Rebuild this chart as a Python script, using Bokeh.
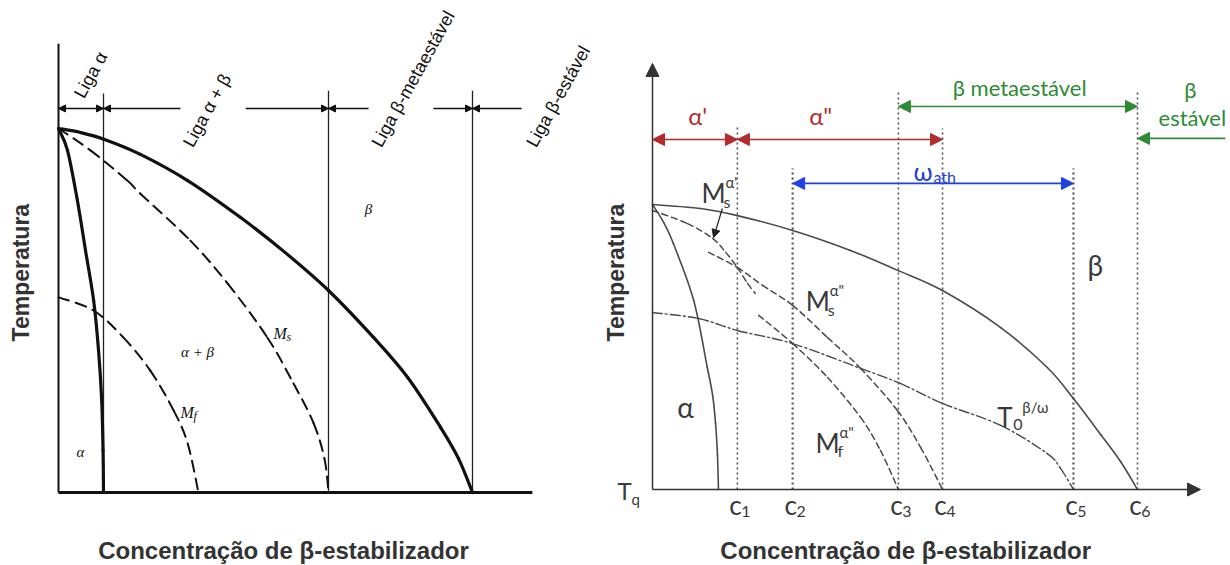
from bokeh.plotting import figure
from bokeh.layouts import row
from bokeh.models import Arrow, NormalHead, ColumnDataSource, Range1d
from bokeh.core.properties import value
from bokeh.embed import file_html
from bokeh.resources import INLINE

# ------------------------------------------------------------------
# Left diagram: alloy classes along the beta-stabiliser axis
# ------------------------------------------------------------------
alloy_bounds = [1.0, 6.0, 9.2]
alloy_names = ["Liga α", "Liga α + β", "Liga β-metaestável", "Liga β-estável"]

transus_c = [0, 0.49, 1.02, 1.82, 2.87, 4.04, 5.04, 6.0, 7.0, 7.76, 8.49, 8.89, 9.2]
transus_t = [10, 9.89, 9.70, 9.29, 8.57, 7.56, 6.59, 5.55, 4.26, 3.16, 1.79, 0.93, 0]

alpha_c = [0, 0.2, 0.42, 0.6, 0.78, 0.89, 0.96, 0.99, 1.0]
alpha_t = [10, 9.40, 8.02, 6.65, 5.28, 3.90, 2.53, 1.15, 0]

ms_c = [0, 0.71, 1.53, 1.82, 2.93, 3.76, 4.64, 5.22, 5.67, 5.91, 6.0]
ms_t = [10, 9.40, 8.57, 8.21, 6.92, 5.74, 4.26, 3.00, 1.90, 0.93, 0]

mf_c = [0, 0.78, 1.44, 2.04, 2.56, 2.87, 3.11]
mf_t = [5.36, 5.0, 4.26, 3.35, 2.25, 1.35, 0]

# ------------------------------------------------------------------
# Right diagram: martensite / omega regions, c1 .. c6
# ------------------------------------------------------------------
c_marks = [1.75, 2.89, 5.07, 5.98, 8.68, 10.0]
c_names = ["1", "2", "3", "4", "5", "6"]

bt_c = [0, 0.99, 1.75, 2.89, 4.08, 5.07, 5.98, 7.18, 8.14, 8.68, 9.24, 9.65, 10.0]
bt_t = [10.0, 9.86, 9.61, 9.09, 8.39, 7.68, 6.98, 5.68, 4.28, 3.19, 1.93, 0.98, 0]

al_c = [0, 0.23, 0.43, 0.85, 1.13, 1.24, 1.30, 1.34, 1.36]
al_t = [10.0, 9.37, 8.63, 6.63, 4.28, 3.30, 2.32, 1.19, 0]

ms1_c = [0, 0.72, 1.24, 1.51, 1.75, 1.96, 2.12]
ms1_t = [9.79, 9.33, 8.81, 8.32, 7.79, 7.23, 6.88]

ms2_c = [1.16, 1.75, 2.27, 2.89, 3.61, 4.29, 5.05, 5.53, 5.98]
ms2_t = [8.32, 7.79, 7.16, 6.46, 5.33, 4.25, 2.77, 1.47, 0]

mf2_c = [2.19, 2.89, 3.61, 4.29, 4.70, 5.07]
mf2_t = [6.11, 5.12, 3.93, 2.53, 1.37, 0]

t0_c = [0, 0.95, 1.75, 2.89, 4.29, 5.11, 5.98, 7.18, 8.14, 8.41, 8.68]
t0_t = [6.21, 6.0, 5.58, 5.12, 4.25, 3.72, 3.02, 2.25, 1.26, 0.75, 0]

TITLE_X = "Concentração de β-estabilizador"
TITLE_Y = "Temperatura"

TITLE_FONT = value("Liberation Sans")
TITLE_COLOR = "#333333"


def blank_figure(width, x_range, y_range):
    p = figure(width=width, height=565, x_range=Range1d(*x_range), y_range=Range1d(*y_range),
               x_axis_type=None, y_axis_type=None, min_border=0,
               toolbar_location=None, output_backend="svg")
    p.outline_line_color = None
    p.grid.visible = False
    return p


def smooth_curve(p, xs, ys, **style):
    """Draw a curve through the given points as Catmull-Rom cubic Bezier pieces."""
    n = len(xs)
    seg = dict(x0=[], y0=[], x1=[], y1=[], cx0=[], cy0=[], cx1=[], cy1=[])
    for i in range(n - 1):
        a, b, c, d = max(i - 1, 0), i, i + 1, min(i + 2, n - 1)
        seg["x0"].append(xs[b]); seg["y0"].append(ys[b])
        seg["x1"].append(xs[c]); seg["y1"].append(ys[c])
        seg["cx0"].append(xs[b] + (xs[c] - xs[a]) / 6); seg["cy0"].append(ys[b] + (ys[c] - ys[a]) / 6)
        seg["cx1"].append(xs[c] - (xs[d] - xs[b]) / 6); seg["cy1"].append(ys[c] - (ys[d] - ys[b]) / 6)
    p.bezier(source=ColumnDataSource(seg), x0="x0", y0="y0", x1="x1", y1="y1",
             cx0="cx0", cy0="cy0", cx1="cx1", cy1="cy1", line_cap="round", **style)


def arrows(p, xs, ys, xe, ye, color, width, size, both):
    src = ColumnDataSource(dict(xs=xs, ys=ys, xe=xe, ye=ye))
    head = dict(size=size, fill_color=color, line_color=color, line_width=1)
    p.add_layout(Arrow(x_start="xs", y_start="ys", x_end="xe", y_end="ye", source=src,
                       line_color=color, line_width=width,
                       start=NormalHead(**head) if both else None,
                       end=NormalHead(**head)))


def rich(p, x, y, parts, font, color, style="normal"):
    # parts: (text, size px, x offset px, y offset px); anchored at left / middle
    for txt, size, dx, dy in parts:
        p.text(x=[x], y=[y], text=[txt], x_offset=dx, y_offset=dy,
               text_font=value(font), text_font_size=f"{size}px", text_font_style=style,
               text_color=color, text_align="left", text_baseline="middle")


# ================== left figure ==================
left = blank_figure(600, (-58 / 45, 542 / 45), (-73 / 36.4, 492 / 36.4))
INK = "#111111"

# axes
left.line([0, 0], [0, 12.33], line_color=INK, line_width=2)
left.line([0, 10.53], [0, 0], line_color=INK, line_width=3)

# alloy class boundaries
bound_top = [10.96, 11.04, 11.04]
left.segment(x0=alloy_bounds, y0=[0] * 3, x1=alloy_bounds, y1=bound_top,
             line_color="#222222", line_width=1.3)

# phase boundaries and martensite lines
smooth_curve(left, transus_c, transus_t, line_color=INK, line_width=3.2)
smooth_curve(left, alpha_c, alpha_t, line_color=INK, line_width=3.2)
smooth_curve(left, ms_c, ms_t, line_color=INK, line_width=2, line_dash="11 7")
smooth_curve(left, mf_c, mf_t, line_color=INK, line_width=2, line_dash="11 7")

# class range arrows
row_t = 10.55
arrows(left, [0], [row_t], [alloy_bounds[0]], [row_t], INK, 1.6, 7, True)
arr_from = [2.71, 4.16, 6.89, 8.33, 10.29]
arr_to = [alloy_bounds[0], alloy_bounds[1], alloy_bounds[1], alloy_bounds[2], alloy_bounds[2]]
arrows(left, arr_from, [row_t] * 5, arr_to, [row_t] * 5, INK, 1.6, 7, False)

# rotated class names
name_x = [0.45, 2.87, 7.06, 10.50]
name_t = [10.88, 9.53, 9.53, 9.53]
left.text(x=name_x, y=name_t, text=alloy_names, angle=1.065,
          text_font=value("Liberation Sans"), text_font_size="18px", text_color=INK,
          text_align="left", text_baseline="middle")

# region labels
SERIF = "Liberation Serif"
left.text(x=[6.89, 3.09, 0.49], y=[7.80, 3.85, 1.10], text=["β", "α + β", "α"],
          text_font=value(SERIF), text_font_style="italic", text_font_size="15px",
          text_color=INK, text_align="center", text_baseline="middle")
rich(left, 4.78, 4.37, [("M", 16, 0, 0), ("s", 12, 13, 4)], SERIF, INK, "italic")
rich(left, 2.71, 2.20, [("M", 16, 0, 0), ("f", 12, 13, 4)], SERIF, INK, "italic")

# axis titles
left.text(x=[5.0], y=[-1.59], text=[TITLE_X], text_font=TITLE_FONT, text_font_style="bold",
          text_font_size="24px", text_color=TITLE_COLOR, text_align="center", text_baseline="middle")
left.text(x=[-0.84], y=[6.04], text=[TITLE_Y], angle=1.5708, text_font=TITLE_FONT,
          text_font_style="bold", text_font_size="23px", text_color=TITLE_COLOR,
          text_align="center", text_baseline="middle")

# ================== right figure ==================
right = blank_figure(630, (-52 / 48.5, 578 / 48.5), (-76 / 28.5, 489 / 28.5))
GRAY = "#4a4a4a"
RED = "#b22c2c"
GREEN = "#2e8b34"
BLUE = "#2040e0"
SANS = "Lato"

# dotted composition markers
c_top = [12.70, 11.26, 13.93, 12.67, 11.26, 13.93]
c_width = [1.6, 2.2, 1.6, 1.6, 2.2, 1.6]
right.segment(x0=c_marks, y0=[0] * 6, x1=c_marks, y1=c_top, line_color="#555555",
              line_width=c_width, line_dash="2 3")

# axes with arrow heads
arrows(right, [0], [0], [0], [14.95], "#333333", 1.5, 13, False)
arrows(right, [0], [0], [11.3], [0], "#333333", 1.5, 13, False)

# curves
smooth_curve(right, bt_c, bt_t, line_color=GRAY, line_width=1.6)
smooth_curve(right, al_c, al_t, line_color=GRAY, line_width=1.6)
smooth_curve(right, ms1_c, ms1_t, line_color=GRAY, line_width=1.5, line_dash="6 4")
smooth_curve(right, ms2_c, ms2_t, line_color=GRAY, line_width=1.5, line_dash="6 4")
smooth_curve(right, mf2_c, mf2_t, line_color=GRAY, line_width=1.5, line_dash="6 4")
smooth_curve(right, t0_c, t0_t, line_color=GRAY, line_width=1.4, line_dash="10 3 2 3")

# range arrows
red_t = 12.28
arrows(right, [0, c_marks[0]], [red_t, red_t], [c_marks[0], c_marks[3]], [red_t, red_t],
       RED, 1.6, 12, True)
arrows(right, [c_marks[2]], [13.44], [c_marks[5]], [13.44], GREEN, 1.6, 12, True)
arrows(right, [11.81], [12.32], [c_marks[5]], [12.32], GREEN, 1.6, 12, False)
arrows(right, [c_marks[1]], [10.74], [c_marks[4]], [10.74], BLUE, 1.6, 12, True)
arrows(right, [1.44], [9.86], [1.26], [8.84], "#222222", 1.2, 8, False)

# range labels
right.text(x=[0.93, 3.47], y=[13.12, 13.12], text=["α'", "α\""], text_font=value(SANS),
           text_font_size="24px", text_color=RED, text_align="center", text_baseline="middle")
right.text(x=[7.57, 11.09, 11.13], y=[14.11, 14.05, 13.05], text=["β metaestável", "β", "estável"],
           text_font=value(SANS), text_font_size="22px", text_color=GREEN,
           text_align="center", text_baseline="middle")
rich(right, 5.38, 11.19, [("ω", 25, 0, 0), ("ath", 16, 20, 6)], SANS, BLUE)

# curve labels
TXT = "#3a3a3a"
rich(right, 1.01, 10.39, [("M", 26, 0, 0), ("s", 16, 22, 8), ("α'", 15, 24, -11)], SANS, TXT)
rich(right, 3.16, 6.60, [("M", 26, 0, 0), ("s", 16, 22, 8), ("α\"", 15, 24, -11)], SANS, TXT)
rich(right, 3.36, 1.64, [("M", 26, 0, 0), ("f", 16, 22, 8), ("α\"", 15, 24, -11)], SANS, TXT)
rich(right, 7.11, 2.56, [("T", 26, 0, 0), ("0", 16, 16, 8), ("β/ω", 15, 25, -10)], SANS, TXT)
right.text(x=[0.68, 9.13], y=[2.88, 7.86], text=["α", "β"], text_font=value(SANS),
           text_font_size="28px", text_color=TXT, text_align="center", text_baseline="middle")

# composition tick labels
for cx, nm in zip(c_marks, c_names):
    rich(right, cx - 0.17, -0.53, [("c", 26, 0, 0), (nm, 16, 12, 7)], SANS, TXT)
rich(right, -0.72, -0.04, [("T", 24, 0, 0), ("q", 15, 14, 8)], SANS, TXT)

# axis titles
right.text(x=[5.22], y=[-2.14], text=[TITLE_X], text_font=TITLE_FONT, text_font_style="bold",
           text_font_size="24px", text_color=TITLE_COLOR, text_align="center", text_baseline="middle")
right.text(x=[-0.76], y=[7.61], text=[TITLE_Y], angle=1.5708, text_font=TITLE_FONT,
           text_font_style="bold", text_font_size="23px", text_color=TITLE_COLOR,
           text_align="center", text_baseline="middle")

layout = row(left, right)
open("out.html", "w").write(file_html(layout, INLINE))
